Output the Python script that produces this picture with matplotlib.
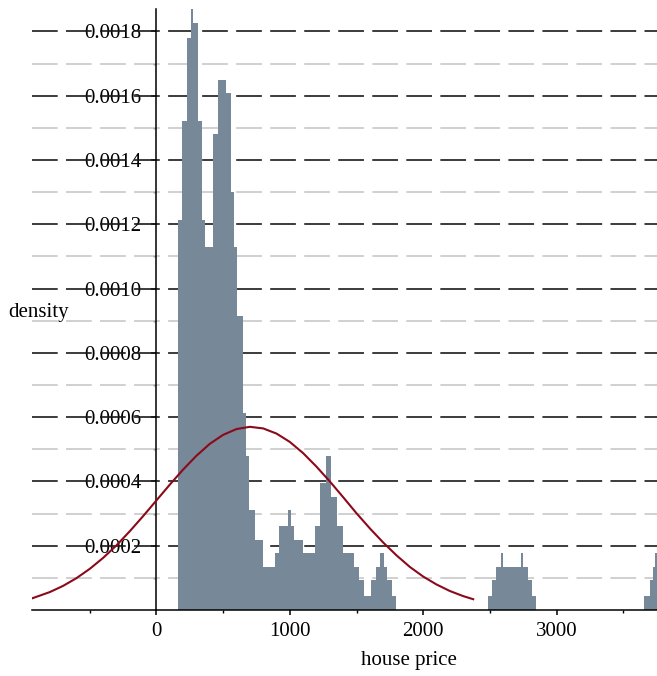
import matplotlib
matplotlib.use("Agg")
import matplotlib.pyplot as plt

plt.rcParams['font.family'] = ['Liberation Serif', 'DejaVu Serif']
plt.rcParams['lines.scale_dashes'] = False

# ==========================================
# DATA
# ==========================================
# histogram outline: bin edges (house price) and density per bin, 0 = empty gap
edges = [165, 189, 226, 256, 276, 313, 339, 364, 426, 459,
         521, 559, 583, 606, 646, 671, 696, 739, 801, 892,
         921, 986, 1006, 1031, 1096, 1188, 1226, 1271, 1308, 1356,
         1401, 1481, 1518, 1556, 1606, 1646, 1676, 1706, 1731, 1764,
         1796, 2488, 2513, 2546, 2581, 2600, 2731, 2750, 2788, 2813,
         2843, 3658, 3700, 3725, 3738, 3790]
density = [0.001215, 0.001520, 0.001780, 0.001870, 0.001826, 0.001520, 0.001215,
           0.001130, 0.001480, 0.001650, 0.001610, 0.001300, 0.001130, 0.000914,
           0.000613, 0.000478, 0.000310, 0.000218, 0.000135, 0.000177, 0.000262,
           0.000310, 0.000262, 0.000218, 0.000177, 0.000262, 0.000395, 0.000478,
           0.000353, 0.000262, 0.000177, 0.000133, 0.000094, 0.000044, 0.000094,
           0.000133, 0.000177, 0.000133, 0.000094, 0.000044,
           0.0,
           0.000044, 0.000094, 0.000133, 0.000177, 0.000133, 0.000177, 0.000133,
           0.000094, 0.000044,
           0.0,
           0.000044, 0.000094, 0.000133, 0.000177]

# fitted density curve, sampled points
curve_x = [-930, -800, -700, -600, -500, -400, -300, -200, -100, 0,
           100, 200, 300, 400, 500, 600, 700, 800, 900, 1000,
           1100, 1200, 1300, 1400, 1500, 1600, 1700, 1800, 1900, 2000,
           2100, 2200, 2300, 2375]
curve_y = [0.0000366, 0.0000557, 0.0000750, 0.0000990, 0.000128, 0.000162, 0.000201,
           0.000245, 0.000292, 0.000341, 0.000390, 0.000437, 0.000480, 0.000517,
           0.000545, 0.000563, 0.000570, 0.000565, 0.000549, 0.000523, 0.000488,
           0.000446, 0.000400, 0.000351, 0.000301, 0.000254, 0.000210, 0.000170,
           0.000134, 0.000104, 0.0000794, 0.0000591, 0.0000432, 0.0000336]

x_major = [0, 1000, 2000, 3000]
x_minor = [-500, 500, 1500, 2500, 3500]
y_major = [0.0002, 0.0004, 0.0006, 0.0008, 0.0010, 0.0012, 0.0014, 0.0016, 0.0018]
y_minor = [0.0001, 0.0003, 0.0005, 0.0007, 0.0009, 0.0011, 0.0013, 0.0015, 0.0017]

# ==========================================
# PLOT
# ==========================================
fig = plt.figure(figsize=(6.57, 6.76), dpi=100)
ax = fig.add_axes([32 / 657, 66 / 676, 625 / 657, 601 / 676])

ax.set_xlim(-933, 3753)
ax.set_ylim(0, 0.00187)

# grid lines, drawn on top of the tick labels but under the bars
for y in y_minor:
    ax.axhline(y, color='#c8c8c8', lw=1.2, dashes=(18.5, 6), zorder=1)
for y in y_major:
    ax.axhline(y, color='#1a1a1a', lw=1.2, dashes=(18.5, 6), zorder=1)

ax.stairs(density, edges, fill=True, color='#778899', zorder=2)
ax.plot(curve_x, curve_y, color='#8b0a1a', lw=1.5, zorder=3)

ax.set_axisbelow(True)
ax.spines['top'].set_visible(False)
ax.spines['right'].set_visible(False)
ax.spines['left'].set_position(('data', 0))
ax.spines['left'].set_linewidth(1.1)
ax.spines['bottom'].set_linewidth(1.1)

ax.set_xticks(x_major)
ax.set_xticklabels([str(v) for v in x_major])
ax.set_xticks(x_minor, minor=True)
ax.set_yticks(y_major)
ax.set_yticklabels(["%.4f" % v for v in y_major])
ax.set_yticks(y_minor, minor=True)

ax.tick_params(axis='both', which='major', labelsize=15, length=3.6, width=1.1, colors='black')
ax.tick_params(axis='both', which='minor', length=2.2, width=1.0)
ax.tick_params(axis='x', which='major', pad=5)
ax.tick_params(axis='y', which='major', pad=7)

fig.text(409 / 657, 1 - 660 / 676, "house price", fontsize=15, ha='center', va='center')
fig.text(8 / 657, 1 - 312 / 676, "density", fontsize=15, ha='left', va='center')

fig.savefig("out.png", dpi=100)
